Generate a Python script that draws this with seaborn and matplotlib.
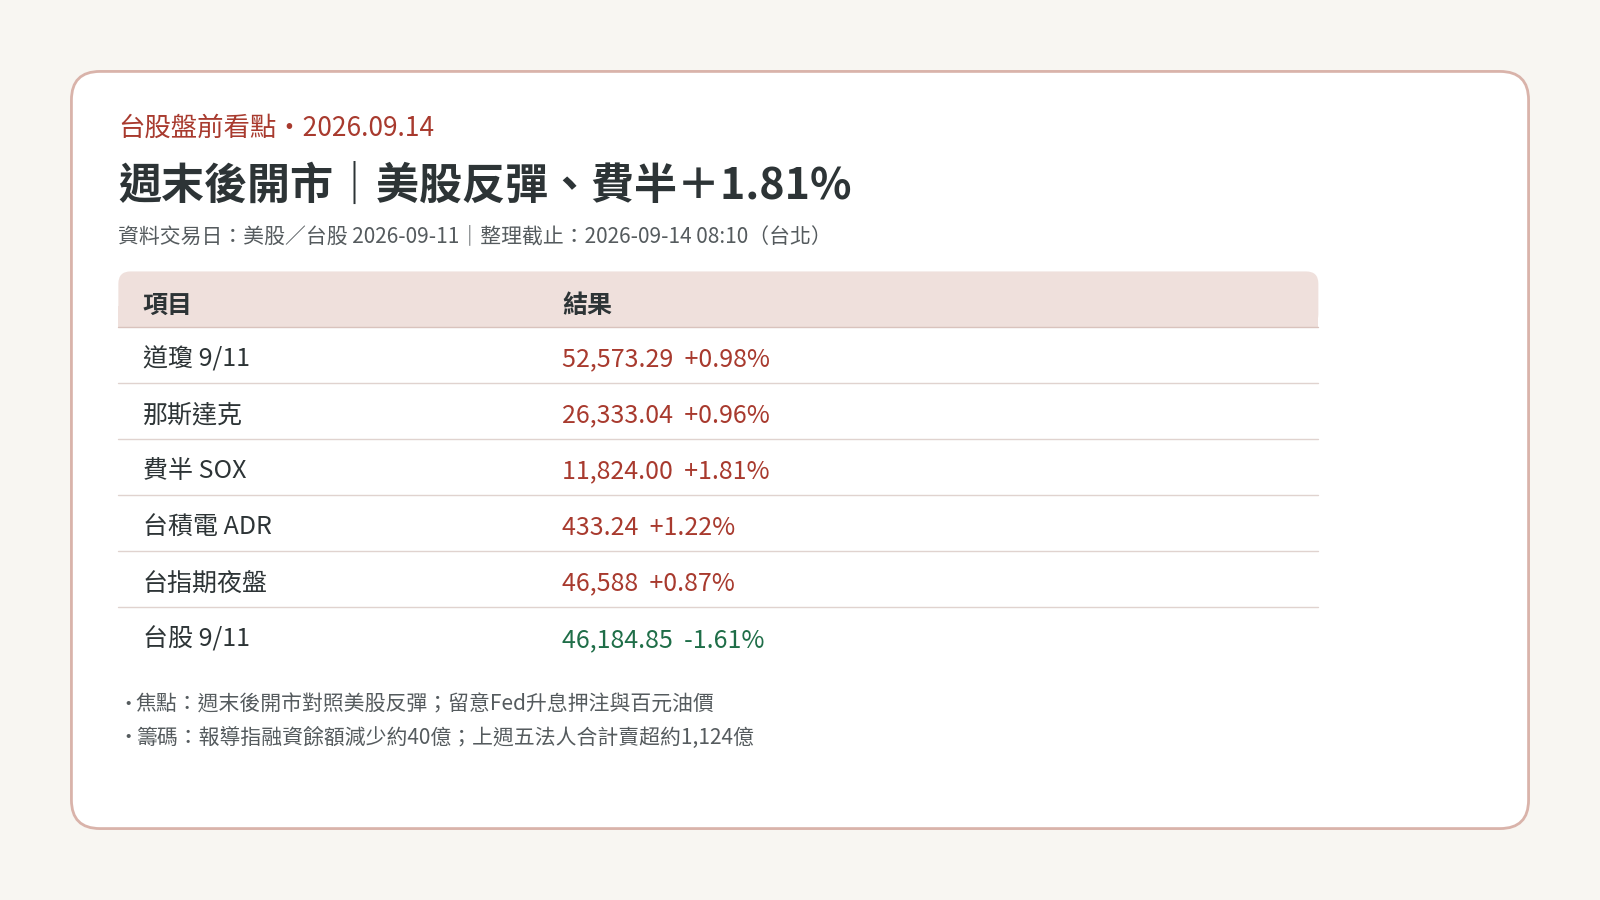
import matplotlib.pyplot as plt
import seaborn as sns
from matplotlib.patches import FancyBboxPatch, Rectangle

# table data
items = ["道瓊 9/11", "那斯達克", "費半 SOX", "台積電 ADR", "台指期夜盤", "台股 9/11"]
values = ["52,573.29", "26,333.04", "11,824.00", "433.24", "46,588", "46,184.85"]
changes = ["+0.98%", "+0.96%", "+1.81%", "+1.22%", "+0.87%", "-1.61%"]
notes = ["焦點：週末後開市對照美股反彈；留意Fed升息押注與百元油價",
         "籌碼：報導指融資餘額減少約40億；上週五法人合計賣超約1,124億"]

RED = "#a83a2e"
GREEN = "#1f6e48"
DARK = "#2d3436"
GREY = "#555b5e"

sns.set_theme(style="white")
plt.rcParams['font.family'] = ['Noto Sans CJK TC', 'DejaVu Sans']

fig = plt.figure(figsize=(16, 9), dpi=100, facecolor="#f8f6f2")
ax = fig.add_axes([0, 0, 1, 1])
ax.set_xlim(0, 1568)
ax.set_ylim(882, 0)
ax.axis("off")

ax.add_patch(FancyBboxPatch((70, 70), 1428, 742, boxstyle="round,pad=0,rounding_size=28",
                            fc="white", ec="#d9b3aa", lw=2))

ax.text(116, 126, "台股盤前看點・2026.09.14", color=RED, fontsize=19, va="center")
ax.text(116, 182, "週末後開市｜美股反彈、費半＋1.81%", color=DARK, fontsize=31,
        fontweight="bold", va="center")
ax.text(116, 231, "資料交易日：美股／台股 2026-09-11｜整理截止：2026-09-14 08:10（台北）",
        color=GREY, fontsize=15, va="center")

# header
ax.add_patch(FancyBboxPatch((116, 266), 1176, 54, boxstyle="round,pad=0,rounding_size=12",
                            fc="#efe0dc", ec="none"))
ax.add_patch(Rectangle((116, 300), 1176, 20, fc="#efe0dc", ec="none"))
ax.text(140, 300, "項目", color=DARK, fontsize=18, fontweight="bold", va="center")
ax.text(551, 300, "結果", color=DARK, fontsize=18, fontweight="bold", va="center")
ax.plot([116, 1292], [320, 320], color="#d9c3bd", lw=1)

for i, (it, v, c) in enumerate(zip(items, values, changes)):
    y = 352 + i * 55
    col = GREEN if c.startswith("-") else RED
    ax.text(140, y, it, color=DARK, fontsize=18, va="center")
    ax.text(551, y, f"{v}  {c}", color=col, fontsize=18, va="center")
    if i < len(items) - 1:
        ax.plot([116, 1292], [y + 23, y + 23], color="#e0d3cf", lw=1)

for i, n in enumerate(notes):
    y = 690 + i * 33
    ax.text(116, y, "•", color=GREY, fontsize=14, va="center")
    ax.text(133, y, n, color=GREY, fontsize=15, va="center")

fig.savefig("out.png", dpi=100, facecolor=fig.get_facecolor())
